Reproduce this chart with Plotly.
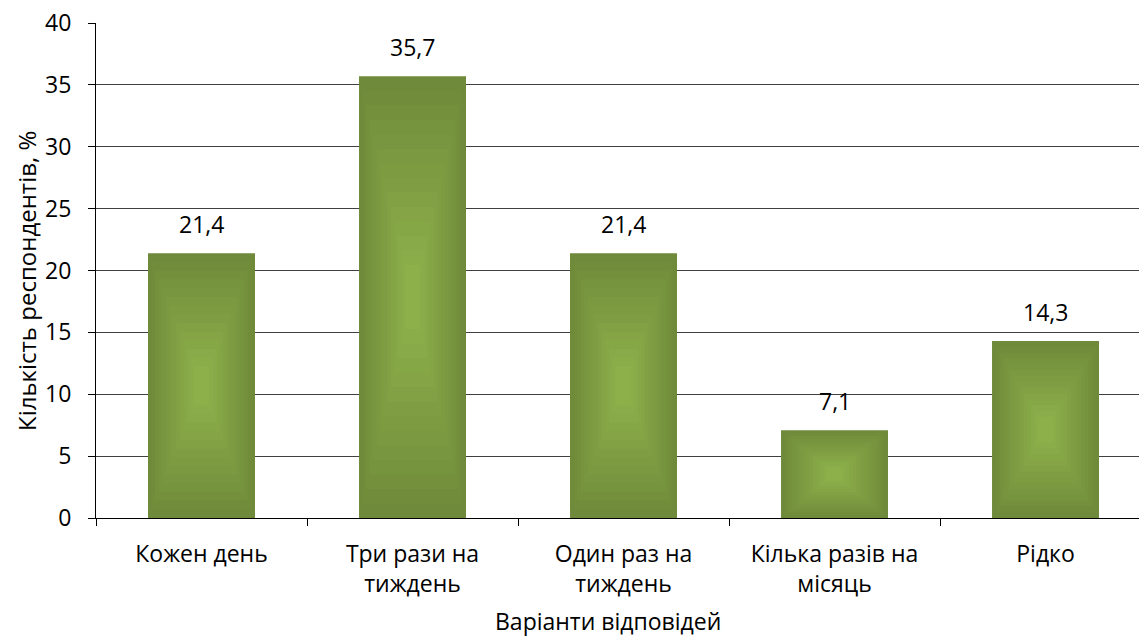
import plotly.graph_objects as go

categories = ["Кожен день", "Три рази на<br>тиждень", "Один раз на<br>тиждень",
              "Кілька разів на<br>місяць", "Рідко"]
values = [21.4, 35.7, 21.4, 7.1, 14.3]
value_labels = ["21,4", "35,7", "21,4", "7,1", "14,3"]
y_ticks = [0, 5, 10, 15, 20, 25, 30, 35, 40]

FONT = "Open Sans"
FS = 23
edge = (111, 138, 58)
center = (141, 176, 74)
N = 14
bar_w = 0.507

fig = go.Figure()
for k in range(N):
    f = k / N * 0.92
    t = k / (N - 1)
    col = "rgb(%d,%d,%d)" % tuple(round(edge[i] + (center[i] - edge[i]) * t) for i in range(3))
    fig.add_trace(go.Bar(
        x=categories,
        y=[v * (1 - f) for v in values],
        base=[v * f / 2 for v in values],
        width=[bar_w * (1 - f)] * len(values),
        marker=dict(color=col, line=dict(width=0)),
        hoverinfo="skip",
        showlegend=False,
    ))

for c, v, lab in zip(categories, values, value_labels):
    fig.add_annotation(x=c, y=v, text=lab, showarrow=False, yshift=29,
                       font=dict(family=FONT, size=FS, color="#000"))

W, H = 1139, 636
L, T, B = 96, 23, 118
PW = W - L
fig.add_annotation(xref="paper", yref="paper", x=-(L - 8) / PW, y=0.5,
                   text="Кількість респондентів, %", textangle=-90, showarrow=False,
                   xanchor="left", yanchor="middle", yshift=-11,
                   font=dict(family=FONT, size=24, color="#000"))
fig.add_annotation(xref="paper", yref="paper", x=(608 - L) / PW, y=0,
                   text="Варіанти відповідей", showarrow=False,
                   xanchor="center", yanchor="middle", yshift=-103,
                   font=dict(family=FONT, size=FS, color="#000"))

fig.update_layout(
    width=W, height=H,
    barmode="overlay",
    plot_bgcolor="white", paper_bgcolor="white",
    margin=dict(l=L, r=0, t=T, b=B, autoexpand=False),
    font=dict(family=FONT, size=FS, color="#000"),
    showlegend=False,
)
fig.update_xaxes(
    range=[-0.5, 4.443], automargin=False,
    tickson="boundaries", ticks="outside", ticklen=7, tickcolor="#000",
    showline=True, linecolor="#000", linewidth=1,
    showgrid=False,
    ticklabelstandoff=15, ticklabeloverflow="allow",
    tickfont=dict(family=FONT, size=FS),
)
fig.update_yaxes(
    range=[0, 40], tickvals=y_ticks, automargin=False,
    ticks="outside", ticklen=7, tickcolor="#000",
    showline=True, linecolor="#000", linewidth=1,
    showgrid=True, gridcolor="#404040", gridwidth=1,
    zeroline=False,
    ticklabelstandoff=12, ticklabeloverflow="allow",
    tickfont=dict(family=FONT, size=FS),
)
fig.write_html("out.html", config={"displayModeBar": False},
               post_script="document.body.style.margin='0';document.body.style.overflow='hidden';")
